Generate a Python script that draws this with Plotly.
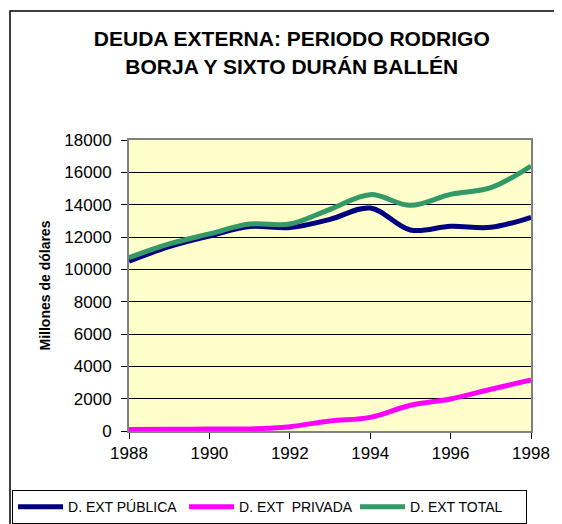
import plotly.graph_objects as go

# Datos (millones de dolares)
years = [1988, 1989, 1990, 1991, 1992, 1993, 1994, 1995, 1996, 1997, 1998]
publica = [10500, 11400, 12060, 12650, 12580, 13090, 13790, 12430, 12660, 12600, 13220]
privada = [100, 110, 120, 130, 270, 620, 840, 1590, 1980, 2580, 3160]
total = [10720, 11570, 12190, 12800, 12800, 13710, 14620, 13960, 14640, 15050, 16390]

fig = go.Figure()

fig.add_trace(go.Scatter(x=years, y=publica, mode="lines", name="D. EXT PÚBLICA",
                         line=dict(color="#000080", width=5, shape="spline")))
fig.add_trace(go.Scatter(x=years, y=privada, mode="lines", name="D. EXT  PRIVADA",
                         line=dict(color="#FF00FF", width=5, shape="spline")))
fig.add_trace(go.Scatter(x=years, y=total, mode="lines", name="D. EXT TOTAL",
                         line=dict(color="#339966", width=5, shape="spline")))

fig.update_layout(
    width=562, height=524,
    margin=dict(l=121, r=39, t=132, b=101, autoexpand=False),
    paper_bgcolor="white",
    plot_bgcolor="#FFFFCC",
    font=dict(family="Liberation Sans, Arial", color="black"),
    title=dict(text="<b>DEUDA EXTERNA: PERIODO RODRIGO<br>BORJA Y SIXTO DURÁN BALLÉN</b>",
               x=0.505, xanchor="center", y=0.927, yanchor="top",
               font=dict(size=21)),
    showlegend=True,
    legend=dict(orientation="h", x=-0.291, xanchor="left", xref="paper",
                y=-0.203, yanchor="top", yref="paper",
                bordercolor="black", borderwidth=1, bgcolor="white",
                font=dict(size=14), itemwidth=45, entrywidth=111,
                tracegroupgap=0),
)

fig.update_xaxes(range=[1988, 1998], tickvals=[1988, 1990, 1992, 1994, 1996, 1998],
                 showgrid=False, zeroline=False,
                 showline=True, linecolor="#808080", linewidth=2, mirror=True,
                 ticks="outside", ticklen=6, tickcolor="black",
                 tickfont=dict(size=17))
fig.update_yaxes(range=[0, 18000], dtick=2000, tickformat="d",
                 showgrid=True, gridcolor="black", gridwidth=1, zeroline=False,
                 showline=True, linecolor="#808080", linewidth=2, mirror=True,
                 ticks="outside", ticklen=6, tickcolor="black",
                 ticklabelstandoff=6, tickfont=dict(size=17))

# titulo del eje y
fig.add_annotation(text="<b>Millones de dólares</b>", xref="paper", yref="paper",
                   x=-0.209, y=0.5, xanchor="center", yanchor="middle",
                   textangle=-90, showarrow=False, font=dict(size=14))

# marco exterior del grafico
fig.add_shape(type="rect", xref="paper", yref="paper",
              x0=-0.296, x1=1.3, y0=-0.6, y1=1.443,
              line=dict(color="black", width=1.5), layer="below")

fig.write_html("out.html")
